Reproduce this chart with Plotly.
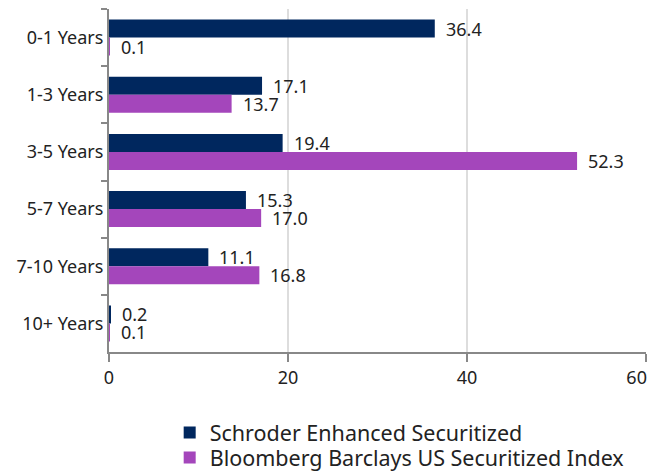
import plotly.graph_objects as go

categories = ["0-1 Years", "1-3 Years", "3-5 Years", "5-7 Years", "7-10 Years", "10+ Years"]
schroder = [36.4, 17.1, 19.4, 15.3, 11.1, 0.2]
bloomberg = [0.1, 13.7, 52.3, 17.0, 16.8, 0.1]
series_names = ["Schroder Enhanced Securitized", "Bloomberg Barclays US Securitized Index"]
colors = ["#00275e", "#a446bb"]
x_ticks = [0, 20, 40, 60]

FONT = "Noto Sans"
FS = 18
TXT = "#222222"
NB = "\u00a0"

legend_ids = ["legend", "legend2"]
fig = go.Figure()
for name, vals, col, lg in zip(series_names, [schroder, bloomberg], colors, legend_ids):
    fig.add_trace(go.Bar(
        y=categories, x=vals, name=name, orientation="h",
        marker=dict(color=col, line=dict(width=0)),
        legend=lg, hoverinfo="skip",
    ))

# value labels placed with the axes' own scales
for vals, ys in ((schroder, 9), (bloomberg, -9)):
    for cat, v in zip(categories, vals):
        fig.add_annotation(
            x=v, y=cat, xref="x", yref="y", text=f"{v:.1f}",
            showarrow=False, xanchor="left", yanchor="middle",
            xshift=9, yshift=ys,
            font=dict(family=FONT, size=FS, color=TXT),
        )

tick_text = [str(t) for t in x_ticks]
tick_text[-1] = tick_text[-1] + NB * 4

leg_common = dict(
    orientation="v", xanchor="left", yanchor="middle",
    font=dict(family=FONT, size=21.5, color=TXT),
    itemsizing="constant", bgcolor="rgba(0,0,0,0)",
)

fig.update_layout(
    width=649, height=490,
    margin=dict(l=101, r=11, t=1, b=146, pad=0),
    paper_bgcolor="white", plot_bgcolor="white",
    barmode="group", bargap=0.37, bargroupgap=0,
    font=dict(family=FONT, size=FS, color=TXT),
    showlegend=True,
    legend=dict(x=0.113, y=-0.235, **leg_common),
    legend2=dict(x=0.113, y=-0.308, **leg_common),
    xaxis=dict(
        range=[0, 60], tickvals=x_ticks, ticktext=tick_text,
        showgrid=True, gridcolor="#dddddd", gridwidth=1.5,
        showline=True, linecolor="#888888", linewidth=2,
        ticks="outside", ticklen=8, tickcolor="#888888", tickwidth=2,
        zeroline=False, tickfont=dict(size=FS), fixedrange=True, automargin=False,
        ticklabeloverflow="allow",
    ),
    yaxis=dict(
        categoryorder="array", categoryarray=categories,
        autorange="reversed",
        showline=True, linecolor="#888888", linewidth=2,
        ticks="outside", tickson="boundaries", ticklen=6, tickcolor="#888888", tickwidth=2,
        showgrid=False, tickfont=dict(size=FS), fixedrange=True, automargin=False,
    ),
)

fig.write_html("out.html")
